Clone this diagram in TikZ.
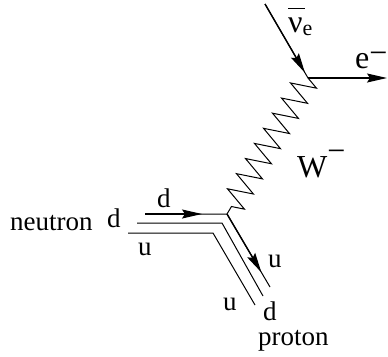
\documentclass[tikz,border=0pt]{standalone}
\usepackage{fontspec}
\setmainfont{Liberation Serif}
\usetikzlibrary{arrows.meta,calc,decorations.pathmorphing}

\begin{document}
\begin{tikzpicture}[
 x=1pt,y=-1pt,
 quark/.style={line width=1pt},
 arrow/.style={-{Stealth[length=20pt,width=9pt,inset=3pt]},line width=1.4pt},
 boson/.style={line width=1pt,decorate,decoration={zigzag,segment length=17.6pt,amplitude=12.5pt}},
 lbl/.style={inner sep=0pt,anchor=base west,font=\fontsize{27}{30}\selectfont},
 big/.style={inner sep=0pt,anchor=base west,font=\fontsize{32}{36}\selectfont}
]
\useasboundingbox (0,0) rectangle (388,356);
% vertices and line ends
\coordinate (nuin) at (265,4);
\coordinate (top) at (308,78);
\coordinate (eout) at (387,78);
\coordinate (bot) at (227,214);
\coordinate (din) at (145,214);
\coordinate (uout) at (270,287);
\coordinate (in2) at (137,223);
\coordinate (c2) at (222,223);
\coordinate (out2) at (263,296);
\coordinate (in3) at (128,233);
\coordinate (c3) at (213,233);
\coordinate (out3) at (255,305);
\coordinate (nutip) at ($(nuin)!0.93!(top)$);
\coordinate (dtip) at (202,214);
\coordinate (utip) at ($(bot)!0.8!(uout)$);
% leptons and W
\draw[quark] (nuin) -- (top);
\draw[arrow] (nuin) -- (nutip);
\draw[arrow] (top) -- (eout);
\draw[boson] (top) -- (bot);
% quarks
\draw[quark] (din) -- (bot) -- (uout);
\draw[arrow] (din) -- (dtip);
\draw[arrow] (bot) -- (utip);
\draw[quark] (in2) -- (c2) -- (out2);
\draw[quark] (in3) -- (c3) -- (out3);
% labels
\node[lbl] (neutron) at (10,230) {neutron};
\node[lbl] (dn) at (107,227) {d};
\node[lbl] (dtop) at (157,207) {d};
\node[lbl] (un) at (138,255) {u};
\node[lbl] (uright) at (268,267) {u};
\node[lbl] (uleft) at (223,310) {u};
\node[lbl] (dp) at (263,320) {d};
\node[lbl] (proton) at (258,345) {proton};
\node[big] (W) at (297,177) {W\raisebox{0.5em}{−}};
\node[big] (nu) at (288,32) {\rlap{\rule[0.72em]{0.53em}{1.2pt}}ν\raisebox{-3pt}{\fontsize{22}{24}\selectfont e}};
\node[big] (e) at (355,68) {e\raisebox{0.15em}{−}};
\end{tikzpicture}
\end{document}
